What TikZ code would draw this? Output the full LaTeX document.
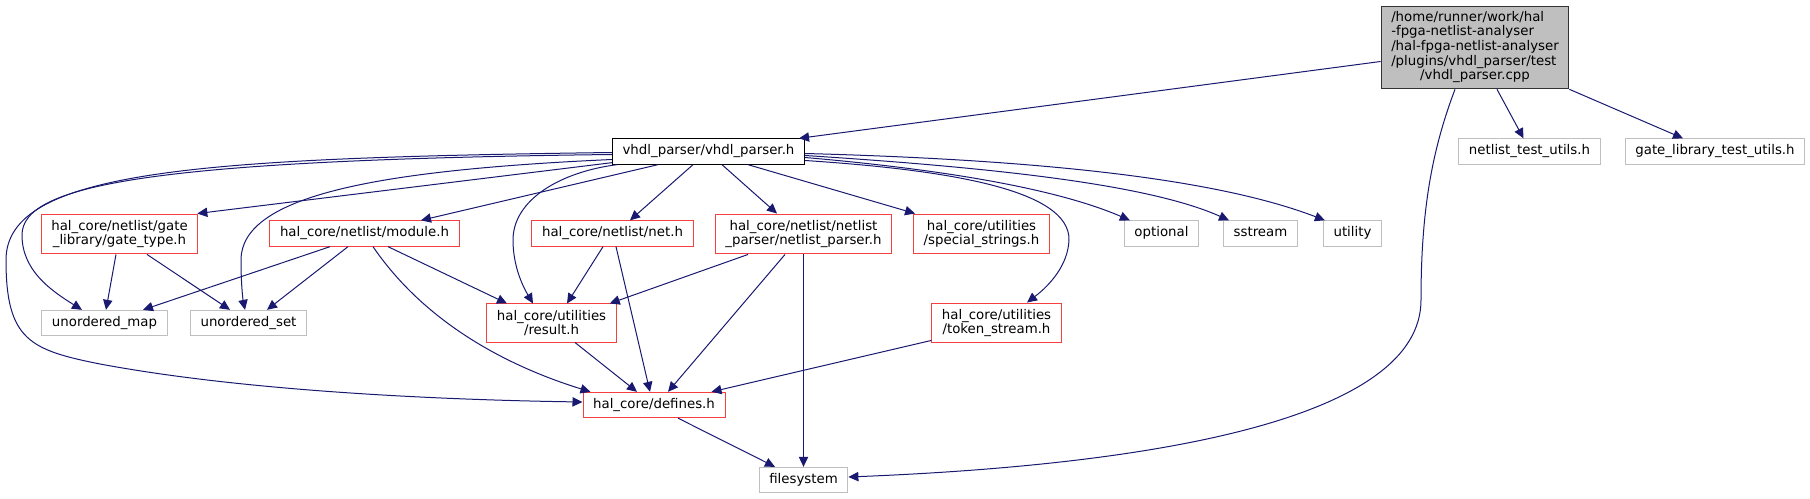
\documentclass[tikz,border=0pt]{standalone}
\usepackage{fontspec}
\setmainfont{DejaVu Sans}
\usetikzlibrary{arrows.meta}
\definecolor{edgeblue}{HTML}{191970}
\definecolor{boxred}{HTML}{F54040}
\definecolor{boxgray}{HTML}{BFBFBF}
\definecolor{rootfill}{HTML}{BFBFBF}
\begin{document}
\begin{tikzpicture}[x=0.75pt,y=-0.75pt,
    font=\fontsize{10}{11}\selectfont,
    hfile/.style={draw,rectangle,line width=0.75pt,inner xsep=7.6pt,inner ysep=4.5pt,minimum height=19pt},
    oneline/.style={text height=7.6pt,text depth=2.4pt},
    twoline/.style={align=center},
    leaf/.style={hfile,oneline,draw=boxgray},
    trunc/.style={hfile,draw=boxred},
    edge/.style={draw=edgeblue,line width=0.75pt,-{Triangle[length=7.5pt,width=7pt,fill=edgeblue]}}]
  \useasboundingbox (0,0) rectangle (1810,499);

  % top of the graph
  \node[hfile,fill=rootfill,draw=black!80,inner ysep=3.5pt] (root) at (1475,47.5)
    {\begin{tabular}{@{}l@{}}/home/runner/work/hal\\-fpga-netlist-analyser\\/hal-fpga-netlist-analyser\\/plugins/vhdl\_parser/test\\\multicolumn{1}{@{}c@{}}{/vhdl\_parser.cpp}\end{tabular}};
  \node[hfile,oneline,draw=black] (vhdl) at (708.5,151.5) {vhdl\_parser/vhdl\_parser.h};
  \node[leaf] (nltu) at (1529.5,151.5) {netlist\_test\_utils.h};
  \node[leaf] (gltu) at (1715,151.5) {gate\_library\_test\_utils.h};

  % second row
  \node[trunc,twoline] (gtype) at (119.5,234) {hal\_core/netlist/gate\\\_library/gate\_type.h};
  \node[trunc,oneline] (module) at (364.5,233.5) {hal\_core/netlist/module.h};
  \node[trunc,oneline] (net) at (612.5,233.5) {hal\_core/netlist/net.h};
  \node[trunc,twoline] (nlp) at (803.5,234) {hal\_core/netlist/netlist\\\_parser/netlist\_parser.h};
  \node[trunc,twoline] (spstr) at (981.5,234) {hal\_core/utilities\\/special\_strings.h};
  \node[leaf] (optional) at (1161.5,233.5) {optional};
  \node[leaf] (sstream) at (1260.5,233.5) {sstream};
  \node[leaf] (utility) at (1352.5,233.5) {utility};

  % third row
  \node[leaf] (umap) at (104.5,323) {unordered\_map};
  \node[leaf] (uset) at (248.5,323) {unordered\_set};
  \node[trunc,twoline] (result) at (551.5,323) {hal\_core/utilities\\/result.h};
  \node[trunc,twoline] (token) at (996.5,323) {hal\_core/utilities\\/token\_stream.h};

  % bottom
  \node[trunc,oneline] (defines) at (654,405) {hal\_core/defines.h};
  \node[leaf] (fs) at (803.5,480) {filesystem};

  % edges from the cpp file
  \draw[edge] ([shift={(0,14)}]root.west) -- ([shift={(-6,0)}]vhdl.north east);
  \draw[edge] ([shift={(22,0)}]root.south) -- ([shift={(-6,0)}]nltu.north);
  \draw[edge] (root.south east) -- ([shift={(-32,0)}]gltu.north);
  \draw[edge] ([shift={(-20,0)}]root.south) .. controls (1432,150) and (1421,210) .. (1421,300)
    .. controls (1421,420) and (1150,465) .. ([shift={(0,-3)}]fs.east);

  % edges from vhdl_parser.h
  \draw[edge] ([shift={(0,-2)}]vhdl.south west) -- ([shift={(-1,0)}]gtype.north east);
  \draw[edge] ([shift={(0,3)}]vhdl.west) .. controls (150,160) and (22,185) .. (22,235)
    .. controls (22,270) and (50,290) .. ([shift={(-22.5,0)}]umap.north);
  \draw[edge] ([shift={(0,1)}]vhdl.west) .. controls (200,158) and (6,170) .. (6,260)
    .. controls (6,340) and (30,350) .. (100,364)
    .. controls (250,392) and (450,400) .. ([shift={(0,-3)}]defines.west);
  \draw[edge] ([shift={(0,8)}]vhdl.west) .. controls (380,170) and (241,195) .. (241,260)
    .. controls (241,285) and (243,300) .. ([shift={(-3.5,0)}]uset.north);
  \draw[edge] ([shift={(5,0)}]vhdl.south west) .. controls (560,172) and (513,200) .. (513,240)
    .. controls (513,265) and (522,285) .. ([shift={(-18.5,0)}]result.north);
  \draw[edge] ([shift={(-50.5,0)}]vhdl.south) -- ([shift={(56.5,0)}]module.north);
  \draw[edge] ([shift={(-15.5,0)}]vhdl.south) -- ([shift={(17.5,0)}]net.north);
  \draw[edge] ([shift={(13.5,0)}]vhdl.south) -- ([shift={(-26.5,0)}]nlp.north);
  \draw[edge] ([shift={(39.5,0)}]vhdl.south) -- ([shift={(2,0)}]spstr.north west);
  \draw[edge] ([shift={(0,6)}]vhdl.east) .. controls (950,170) and (1060,190) .. ([shift={(6,0)}]optional.north west);
  \draw[edge] ([shift={(0,4)}]vhdl.east) .. controls (1000,168) and (1150,185) .. ([shift={(6,0)}]sstream.north west);
  \draw[edge] ([shift={(0,2)}]vhdl.east) .. controls (1050,160) and (1220,180) .. ([shift={(2,0)}]utility.north west);
  \draw[edge] ([shift={(0,9)}]vhdl.east) .. controls (950,170) and (1070,190) .. (1069,240)
    .. controls (1068,265) and (1050,285) .. ([shift={(30.5,0)}]token.north);

  % edges below
  \draw[edge] ([shift={(-3.5,0)}]gtype.south) -- ([shift={(1.5,0)}]umap.north);
  \draw[edge] ([shift={(27.5,0)}]gtype.south) -- ([shift={(-18.5,0)}]uset.north);
  \draw[edge] ([shift={(-34.5,0)}]module.south) -- ([shift={(38.5,0)}]umap.north);
  \draw[edge] ([shift={(-16.5,0)}]module.south) -- ([shift={(18.5,0)}]uset.north);
  \draw[edge] ([shift={(23.5,0)}]module.south) -- ([shift={(-44.5,0)}]result.north);
  \draw[edge] ([shift={(8.5,0)}]module.south) .. controls (430,330) and (520,370) .. ([shift={(8,0)}]defines.north west);
  \draw[edge] ([shift={(-9.5,0)}]net.south) -- ([shift={(15.5,0)}]result.north);
  \draw[edge] ([shift={(3.5,0)}]net.south) -- ([shift={(-4,0)}]defines.north);
  \draw[edge] ([shift={(-55.5,0)}]nlp.south) -- ([shift={(-7,0)}]result.north east);
  \draw[edge] ([shift={(-18.5,0)}]nlp.south) -- ([shift={(14,0)}]defines.north);
  \draw[edge] (nlp.south) -- (fs.north);
  \draw[edge] ([shift={(23.5,0)}]result.south) -- ([shift={(-17,0)}]defines.north);
  \draw[edge] ([shift={(0,-3)}]token.south west) -- ([shift={(-14,0)}]defines.north east);
  \draw[edge] ([shift={(24,0)}]defines.south) -- ([shift={(-28.5,0)}]fs.north);
\end{tikzpicture}
\end{document}
